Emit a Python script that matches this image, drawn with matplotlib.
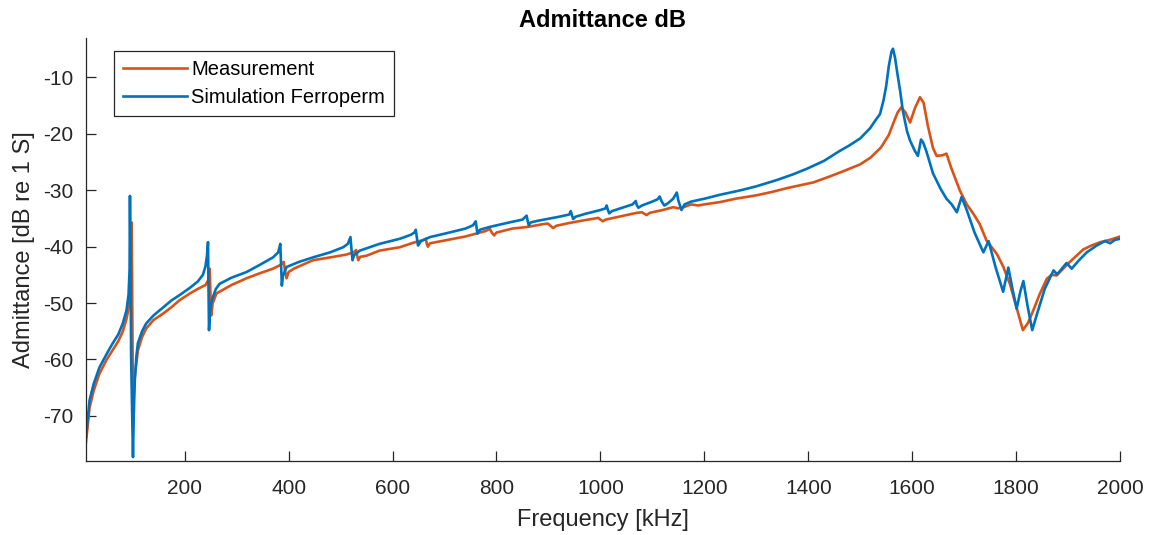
import numpy as np
import matplotlib
matplotlib.use('Agg')
import matplotlib.pyplot as plt

plt.rcParams['font.family'] = ['Liberation Sans', 'DejaVu Sans']
plt.rcParams['axes.unicode_minus'] = False

# Simulation Ferroperm (blue)
f_sim = [10, 17, 25, 36, 50, 61, 72, 81, 88, 92, 94, 94.7, 95.5, 97, 100.5, 102, 104, 107, 110,
         118, 126, 140, 158, 175, 190, 210, 225, 235, 240, 243, 244.9, 245.8, 246.8, 248.5, 251,
         254.5, 260, 267, 290, 319, 345, 370, 380, 384, 385.5, 387, 389, 396, 420, 447, 480,
         505, 514, 519, 521, 523, 526, 537, 575, 614, 635, 642, 644.7, 647, 649, 655, 672, 700,
         740, 755, 760, 762, 763.5, 768, 787, 820, 850, 858, 860, 862, 866, 880, 920, 940, 943,
         945.5, 947.6, 952, 970, 1000, 1010, 1012, 1014.5, 1017, 1022, 1045, 1062, 1068, 1070,
         1073, 1080, 1100, 1110, 1114, 1118, 1123, 1130, 1140, 1147, 1150, 1156, 1162, 1175,
         1200, 1230, 1270, 1300, 1339, 1370, 1397, 1430, 1461, 1480, 1500, 1519, 1530, 1538,
         1545, 1550, 1555, 1560, 1563, 1567, 1571, 1577, 1582, 1590, 1596, 1605, 1611, 1617,
         1621, 1627, 1640, 1655, 1666, 1676, 1686, 1695, 1705, 1720, 1737, 1747, 1760, 1775,
         1785, 1793, 1801, 1808, 1814, 1822, 1831, 1840, 1855, 1872, 1879, 1897, 1907, 1920,
         1936, 1955, 1971, 1981, 1990, 2000]
db_sim = [-73.8, -67.2, -64.3, -61.4, -59.0, -57.2, -55.6, -53.6, -51.3, -48.5, -44.0, -31.0,
          -40.0, -60.0, -77.3, -70.0, -63.7, -59.5, -57.1, -55.0, -53.6, -52.2, -50.8, -49.5,
          -48.6, -47.3, -46.2, -45.0, -43.5, -41.5, -39.2, -46.0, -54.8, -52.0, -50.0, -48.9,
          -47.5, -46.6, -45.5, -44.5, -43.2, -41.9, -41.0, -39.5, -43.0, -46.9, -45.2, -43.6,
          -42.7, -41.9, -41.0, -40.1, -39.5, -38.3, -40.5, -42.4, -41.5, -40.7, -39.5, -38.6,
          -37.9, -37.5, -37.0, -38.5, -39.8, -39.0, -38.3, -37.7, -36.8, -36.2, -35.5, -36.7,
          -37.7, -37.0, -36.5, -35.8, -35.2, -34.5, -35.4, -36.2, -35.7, -35.4, -34.7, -34.3,
          -33.7, -34.5, -35.1, -34.7, -34.2, -33.5, -33.2, -32.7, -33.5, -34.1, -33.7, -33.0,
          -32.5, -31.9, -32.6, -33.1, -32.7, -32.0, -31.6, -31.1, -32.0, -32.7, -32.3, -31.5,
          -30.4, -31.8, -33.5, -32.5, -32.0, -31.5, -30.8, -30.0, -29.3, -28.2, -27.2, -26.2,
          -24.8, -23.0, -22.0, -20.8, -19.0, -17.5, -16.5, -14.0, -11.5, -8.0, -5.5, -4.9,
          -6.5, -9.0, -12.5, -15.9, -19.5, -21.2, -23.0, -23.9, -21.0, -21.5, -23.0, -27.0,
          -29.8, -31.5, -32.5, -33.9, -31.2, -33.5, -37.5, -41.0, -39.0, -43.5, -48.0, -43.7,
          -47.5, -51.0, -48.0, -46.1, -50.5, -54.8, -52.0, -47.5, -44.2, -44.9, -42.9, -43.9,
          -42.5, -41.0, -39.8, -39.0, -39.4, -38.8, -38.6]

# Measurement (orange)
f_meas = [10, 17, 25, 36, 50, 61, 72, 81, 88, 93, 96, 97.5, 98, 98.7, 100, 102, 104, 110, 118,
          126, 140, 158, 175, 190, 210, 225, 240, 245, 248, 249.5, 251, 254, 261, 290, 319, 345,
          370, 385, 390.6, 393, 396, 400, 410, 447, 480, 511, 525, 530, 532, 534, 538, 550, 575,
          614, 640, 660, 664, 666, 668, 672, 700, 740, 760, 780, 787, 791, 795.5, 800, 830, 860,
          890, 899, 904, 909, 915, 940, 970, 990, 996, 1000, 1005, 1010, 1040, 1070, 1080, 1085,
          1089, 1095, 1120, 1140, 1150, 1160, 1175, 1188, 1200, 1230, 1260, 1300, 1330, 1360,
          1385, 1410, 1440, 1468, 1500, 1520, 1540, 1555, 1565, 1572, 1579, 1587, 1596, 1605,
          1615, 1622, 1630, 1640, 1647, 1658, 1666, 1675, 1692, 1705, 1718, 1730, 1743, 1763,
          1775, 1788, 1800, 1813, 1823, 1833, 1845, 1859, 1868, 1878, 1900, 1929, 1945, 1962,
          1980, 2000]
db_meas = [-74.7, -68.5, -65.5, -62.5, -60.0, -58.4, -56.8, -55.0, -52.8, -50.5, -47.0, -42.0,
           -35.7, -45.0, -62.0, -66.0, -63.0, -58.4, -56.0, -54.5, -53.0, -51.9, -50.7, -49.5,
           -48.3, -47.5, -46.8, -46.0, -43.9, -48.0, -52.2, -50.0, -48.3, -46.8, -45.6, -44.7,
           -43.9, -43.2, -42.7, -44.2, -45.6, -44.5, -43.9, -42.4, -41.9, -41.4, -41.0, -40.6,
           -41.6, -42.4, -41.8, -41.6, -40.7, -40.1, -39.3, -38.8, -38.6, -39.5, -40.0, -39.4,
           -38.9, -38.2, -37.7, -37.2, -36.8, -37.5, -38.0, -37.5, -36.8, -36.5, -36.0, -35.9,
           -36.3, -36.7, -36.3, -35.8, -35.3, -35.0, -34.9, -35.2, -35.5, -35.2, -34.6, -34.0,
           -33.9, -34.2, -34.4, -34.0, -33.5, -33.0, -33.2, -33.0, -32.5, -32.7, -32.5, -32.1,
           -31.5, -30.9, -30.3, -29.6, -29.1, -28.6, -27.6, -26.6, -25.4, -24.2, -22.4, -20.2,
           -17.8, -16.2, -15.3, -16.2, -18.0, -15.5, -13.5, -14.5, -18.5, -22.5, -23.9, -23.8,
           -23.5, -26.0, -30.1, -32.5, -34.2, -36.0, -38.9, -41.3, -43.5, -46.6, -50.5, -54.8,
           -53.5, -51.3, -48.5, -45.7, -45.0, -45.1, -43.0, -40.5, -39.8, -39.2, -38.8, -38.2]

fig = plt.figure(figsize=(11.49, 5.35), dpi=100)
ax = fig.add_axes([0.0748, 0.1383, 0.90, 0.7907])

ax.plot(f_meas, db_meas, color='#D95319', linewidth=1.9, label='Measurement')
ax.plot(f_sim, db_sim, color='#0072BD', linewidth=1.9, label='Simulation Ferroperm')

ax.set_xlim(10, 2000)
ax.set_ylim(-78, -3)
ax.set_xticks(np.arange(200, 2001, 200))
ax.set_yticks(np.arange(-70, -9, 10))

for s in ['top', 'right']:
    ax.spines[s].set_visible(False)
for s in ['left', 'bottom']:
    ax.spines[s].set_color('#262626')
    ax.spines[s].set_linewidth(0.9)
ax.tick_params(direction='in', length=7, width=0.9, colors='#262626', labelsize=15, pad=9)
ax.tick_params(axis='x', pad=13)

ax.set_xlabel('Frequency [kHz]', fontsize=17, color='#262626', labelpad=8)
ax.set_ylabel('Admittance [dB re 1 S]', fontsize=17, color='#262626', labelpad=6)
ax.set_title('Admittance dB', fontsize=17, fontweight='bold', pad=8)

leg = ax.legend(loc='upper left', bbox_to_anchor=(0.027, 0.970), borderaxespad=0,
                fontsize=14.5, handlelength=3.2, fancybox=False, framealpha=1,
                edgecolor='#262626', borderpad=0.45, labelspacing=0.45, handletextpad=0.2)
leg.get_frame().set_linewidth(0.9)

plt.savefig('out.png', dpi=100)
